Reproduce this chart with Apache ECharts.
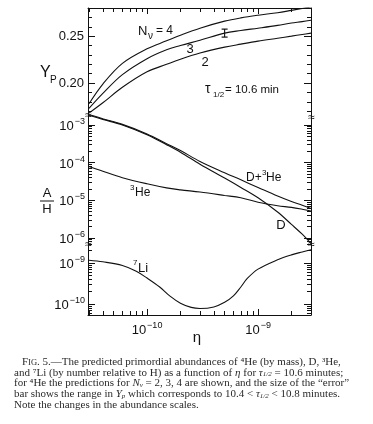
<!DOCTYPE html>
<html><head><meta charset="utf-8">
<script src="https://cdn.jsdelivr.net/npm/echarts@6/dist/echarts.min.js"></script>
<style>html,body{margin:0;padding:0;background:#fff}#c{width:373px;height:424px}</style>
</head><body><div id="c"></div>
<script>
// ---- data ----
const eta = [3e-11,4e-11,6e-11,1e-10,1.5e-10,2e-10,3e-10,5e-10,7e-10,1e-9,1.5e-9,2e-9,2.5e-9,3e-9];
const ypN2 = [0.168,0.179,0.1955,0.212,0.220,0.2255,0.232,0.2383,0.2415,0.2447,0.2478,0.250,0.2518,0.2532];
const ypN3 = [0.173,0.189,0.209,0.226,0.2355,0.240,0.2457,0.2532,0.256,0.2585,0.2615,0.264,0.2655,0.267];
const ypN4 = [0.178,0.199,0.221,0.2365,0.245,0.251,0.2585,0.266,0.2695,0.2723,0.275,0.2775,0.2795,0.281];
const errEta = [5e-10];
const errLow = [0.249];
const errHigh = [0.2575];
const deut = [1.82e-3,1.41e-3,1.0e-3,5.5e-4,3.0e-4,1.9e-4,9.1e-5,3.9e-5,2.2e-5,1.17e-5,4.9e-6,2.3e-6,1.26e-6,7.1e-7];
const he3 = [7.9e-5,5.9e-5,4.0e-5,2.75e-5,2.14e-5,1.9e-5,1.66e-5,1.35e-5,1.17e-5,8.9e-6,7.2e-6,6.5e-6,5.8e-6,5.2e-6];
const dPlusHe3 = [1.9e-3,1.47e-3,1.04e-3,5.8e-4,3.2e-4,2.1e-4,1.08e-4,5.4e-5,3.5e-5,2.2e-5,1.3e-5,9.3e-6,7.4e-6,6.1e-6];
const liEta = [3e-11,4e-11,6e-11,8e-11,1e-10,1.3e-10,1.6e-10,2e-10,2.5e-10,3e-10,4e-10,5e-10,6e-10,7e-10,8e-10,1e-9,1.5e-9,2e-9,2.5e-9,3e-9];
const li7 = [1.17e-9,1.07e-9,8.7e-10,6.3e-10,4.3e-10,2.6e-10,1.58e-10,1.05e-10,8.3e-11,7.8e-11,8.5e-11,1.1e-10,1.58e-10,2.6e-10,4.2e-10,7.1e-10,1.2e-9,1.58e-9,1.86e-9,2.1e-9];

// ---- tick labels ----
const xMajorTicks = [1e-10, 1e-9];
const ypLabelTicks = [0.20, 0.25];
const ypMinorTicks = [0.17,0.18,0.19,0.20,0.21,0.22,0.23,0.24,0.25,0.26,0.27,0.28];
const ahDecades = [1e-6, 1e-5, 1e-4, 1e-3];
const liDecades = [1e-10, 1e-9];

// ---- axis extents ----
const X_MIN = 2.94e-11, X_MAX = 3.0e-9;
const YP_MIN = 0.166, YP_MAX = 0.28;
const AH_MIN = 6.52e-7, AH_MAX = 1.843e-3;
const LI_MIN = 5.4e-11, LI_MAX = 2.75e-9;

const FONT = 'Liberation Sans';
const INK = '#111';

function minorLog(min, max) {
  const out = [];
  for (let e = Math.floor(Math.log10(min)); e <= Math.ceil(Math.log10(max)); e++) {
    for (let m = 2; m <= 9; m++) {
      const v = +(m + 'e' + e);
      if (v >= min && v <= max) out.push(v);
    }
  }
  return out;
}
const powRich = {
  b: {fontSize: 13, fontFamily: FONT, color: INK, lineHeight: 16, verticalAlign: 'bottom'},
  s: {fontSize: 9, fontFamily: FONT, color: INK, lineHeight: 16, verticalAlign: 'top', padding: [0, 0, 0, 1]}
};
function powFmt(v) {
  const e = Math.round(Math.log10(v));
  return '{b|10}{s|\u2212' + (-e) + '}';
}

function xAxis(grid, min, max, pos, ticks, len, opts) {
  opts = opts || {};
  return {
    type: 'log', logBase: 10, gridIndex: grid, min: min, max: max, position: pos,
    show: opts.hide ? false : true,
    axisLine: {show: !!opts.line, lineStyle: {color: INK, width: 1}},
    axisTick: {show: true, inside: true, length: len, customValues: ticks, lineStyle: {color: INK, width: 1}},
    axisLabel: opts.labels ? {show: true, customValues: opts.labels, formatter: powFmt, rich: powRich, margin: 6} : {show: false},
    splitLine: {show: false}, minorTick: {show: false}
  };
}
function yAxis(grid, type, min, max, pos, ticks, len, opts) {
  opts = opts || {};
  const ax = {
    type: type, gridIndex: grid, min: min, max: max, position: pos,
    axisLine: {show: !!opts.line, lineStyle: {color: INK, width: 1}},
    axisTick: {show: true, inside: true, length: len, customValues: ticks, lineStyle: {color: INK, width: 1}},
    axisLabel: {show: false},
    splitLine: {show: false}
  };
  if (type === 'log') ax.logBase = 10;
  if (opts.labels) {
    ax.axisLabel = type === 'log'
      ? {show: true, customValues: opts.labels, formatter: powFmt, rich: powRich, margin: 3}
      : {show: true, customValues: opts.labels, formatter: v => v.toFixed(2), fontSize: 13, fontFamily: FONT, color: INK, margin: 4};
  }
  return ax;
}

const ahMinor = minorLog(AH_MIN, AH_MAX);
const liMinor = minorLog(LI_MIN, LI_MAX);
const xMinor = minorLog(X_MIN, X_MAX);

const xAxes = [
  xAxis(0, X_MIN, X_MAX, 'top', xMajorTicks, 6, {line: true}),
  xAxis(0, X_MIN, X_MAX, 'top', xMinor, 4, {}),
  xAxis(1, X_MIN, X_MAX, 'bottom', [], 0, {hide: true}),
  xAxis(2, X_MIN, X_MAX, 'bottom', xMajorTicks, 6, {line: true, labels: xMajorTicks}),
  xAxis(2, X_MIN, X_MAX, 'bottom', xMinor, 4, {})
];
const yAxes = [
  yAxis(0, 'value', YP_MIN, YP_MAX, 'left', ypMinorTicks, 4, {line: true, labels: ypLabelTicks}),
  yAxis(0, 'value', YP_MIN, YP_MAX, 'left', ypLabelTicks, 7, {}),
  yAxis(0, 'value', YP_MIN, YP_MAX, 'right', ypMinorTicks, 4, {line: true}),
  yAxis(0, 'value', YP_MIN, YP_MAX, 'right', ypLabelTicks, 7, {}),
  yAxis(1, 'log', AH_MIN, AH_MAX, 'left', ahDecades, 7, {line: true, labels: ahDecades}),
  yAxis(1, 'log', AH_MIN, AH_MAX, 'left', ahMinor, 4, {}),
  yAxis(1, 'log', AH_MIN, AH_MAX, 'right', ahDecades, 7, {line: true}),
  yAxis(1, 'log', AH_MIN, AH_MAX, 'right', ahMinor, 4, {}),
  yAxis(2, 'log', LI_MIN, LI_MAX, 'left', liDecades, 7, {line: true, labels: liDecades}),
  yAxis(2, 'log', LI_MIN, LI_MAX, 'left', liMinor, 4, {}),
  yAxis(2, 'log', LI_MIN, LI_MAX, 'right', liDecades, 7, {line: true}),
  yAxis(2, 'log', LI_MIN, LI_MAX, 'right', liMinor, 4, {})
];

function curve(xs, ys, xi, yi) {
  return {
    type: 'line', xAxisIndex: xi, yAxisIndex: yi, data: xs.map((x, i) => [x, ys[i]]),
    showSymbol: false, symbol: 'none', smooth: 0.35, clip: true,
    lineStyle: {color: INK, width: 1.1}, silent: true
  };
}

const series = [
  curve(eta, ypN2, 0, 0),
  curve(eta, ypN3, 0, 0),
  curve(eta, ypN4, 0, 0),
  {
    type: 'line', xAxisIndex: 0, yAxisIndex: 0,
    data: [[errEta[0], errLow[0]], [errEta[0], errHigh[0]]],
    symbol: 'rect', symbolSize: [6, 1.2], showSymbol: true,
    itemStyle: {color: INK}, lineStyle: {color: INK, width: 1.1}, silent: true
  },
  curve(eta, deut, 2, 4),
  curve(eta, he3, 2, 4),
  curve(eta, dPlusHe3, 2, 4),
  curve(liEta, li7, 3, 8)
];

function t(x, y, text, size, extra) {
  return {
    type: 'text', x: x, y: y, silent: true,
    style: Object.assign({text: text, fontSize: size, fontFamily: FONT, fill: INK, align: 'left', verticalAlign: 'middle'}, extra || {})
  };
}
const CAPC = '#2a2a2a';
const LH = 11;
const CF = 11;
const capRich = {
  n: {fontSize: CF, fontFamily: 'Liberation Serif', color: CAPC, lineHeight: LH, verticalAlign: 'middle'},
  i: {fontSize: CF, fontFamily: 'Liberation Serif', fontStyle: 'italic', color: CAPC, lineHeight: LH, verticalAlign: 'middle'},
  c: {fontSize: 8.5, fontFamily: 'Liberation Serif', color: CAPC, lineHeight: LH, verticalAlign: 'middle', padding: [2, 0, 0, 0]},
  sb: {fontSize: 7, fontFamily: 'Liberation Serif', fontStyle: 'italic', color: CAPC, lineHeight: LH, verticalAlign: 'middle', padding: [3, 0, 0, 0]}
};
function cap(x, y, rt) {
  return {type: 'text', x: x, y: y, silent: true,
    style: {text: rt, rich: capRich, fontSize: CF, fontFamily: 'Liberation Serif', fill: CAPC, verticalAlign: 'middle', align: 'left', lineHeight: LH}};
}

const graphics = [
  // axis titles
  t(40, 73, 'Y', 16),
  t(50, 80, 'P', 10),
  t(47, 193, 'A', 13, {align: 'center'}),
  {type: 'line', shape: {x1: 40, y1: 201, x2: 54, y2: 201}, style: {stroke: INK, lineWidth: 1}, silent: true},
  t(47, 209, 'H', 13, {align: 'center'}),
  t(197, 338, '\u03B7', 15, {align: 'center'}),
  // curve labels
  t(138, 31, 'N', 13),
  t(148, 36, '\u03BD', 10),
  t(156, 31, '= 4', 12),
  t(190, 49, '3', 13, {align: 'center'}),
  t(205, 62, '2', 13, {align: 'center'}),
  t(205, 89, '\u03C4', 14),
  t(213, 95, '1/2', 8),
  t(225, 90, '= 10.6 min', 11.5),
  t(246, 178, 'D+', 12),
  t(262, 173, '3', 8),
  t(266, 178, 'He', 12),
  t(130, 188, '3', 8),
  t(135, 193, 'He', 12),
  t(281, 225, 'D', 13, {align: 'center'}),
  t(133, 263, '7', 8),
  t(138, 268, 'Li', 13),
  // axis breaks
  t(88.5, 116, '\u2248', 12, {align: 'center'}),
  t(88.5, 245, '\u2248', 12, {align: 'center'}),
  t(311.5, 118, '\u2248', 12, {align: 'center'}),
  t(311.5, 245, '\u2248', 12, {align: 'center'}),
  // caption
  cap(22, 362, '{n|F}{c|IG}{n|. 5.\u2014The predicted primordial abundances of \u2074He (by mass), D, \u00B3He,}'),
  cap(14, 372.8, '{n|and \u2077Li (by number relative to H) as a function of }{i|\u03B7}{n| for }{i|\u03C4}{sb|1/2}{n| = 10.6 minutes;}'),
  cap(14, 383.6, '{n|for \u2074He the predictions for }{i|N}{sb|\u03BD}{n| = 2, 3, 4 are shown, and the size of the \u201Cerror\u201D}'),
  cap(14, 394.4, '{n|bar shows the range in }{i|Y}{sb|p}{n| which corresponds to 10.4 < }{i|\u03C4}{sb|1/2}{n| < 10.8 minutes.}'),
  cap(14, 405.2, '{n|Note the changes in the abundance scales.}')
];

const chart = echarts.init(document.getElementById('c'), null, {renderer: 'canvas'});
chart.setOption({
  animation: false,
  backgroundColor: '#fff',
  grid: [
    {left: 88, right: 62, top: 8, height: 107, outerBoundsMode: 'none'},
    {left: 88, right: 62, top: 115, height: 130, outerBoundsMode: 'none'},
    {left: 88, right: 62, top: 245, height: 70, outerBoundsMode: 'none'}
  ],
  xAxis: xAxes,
  yAxis: yAxes,
  series: series,
  graphic: graphics
});
</script>
</body></html>
